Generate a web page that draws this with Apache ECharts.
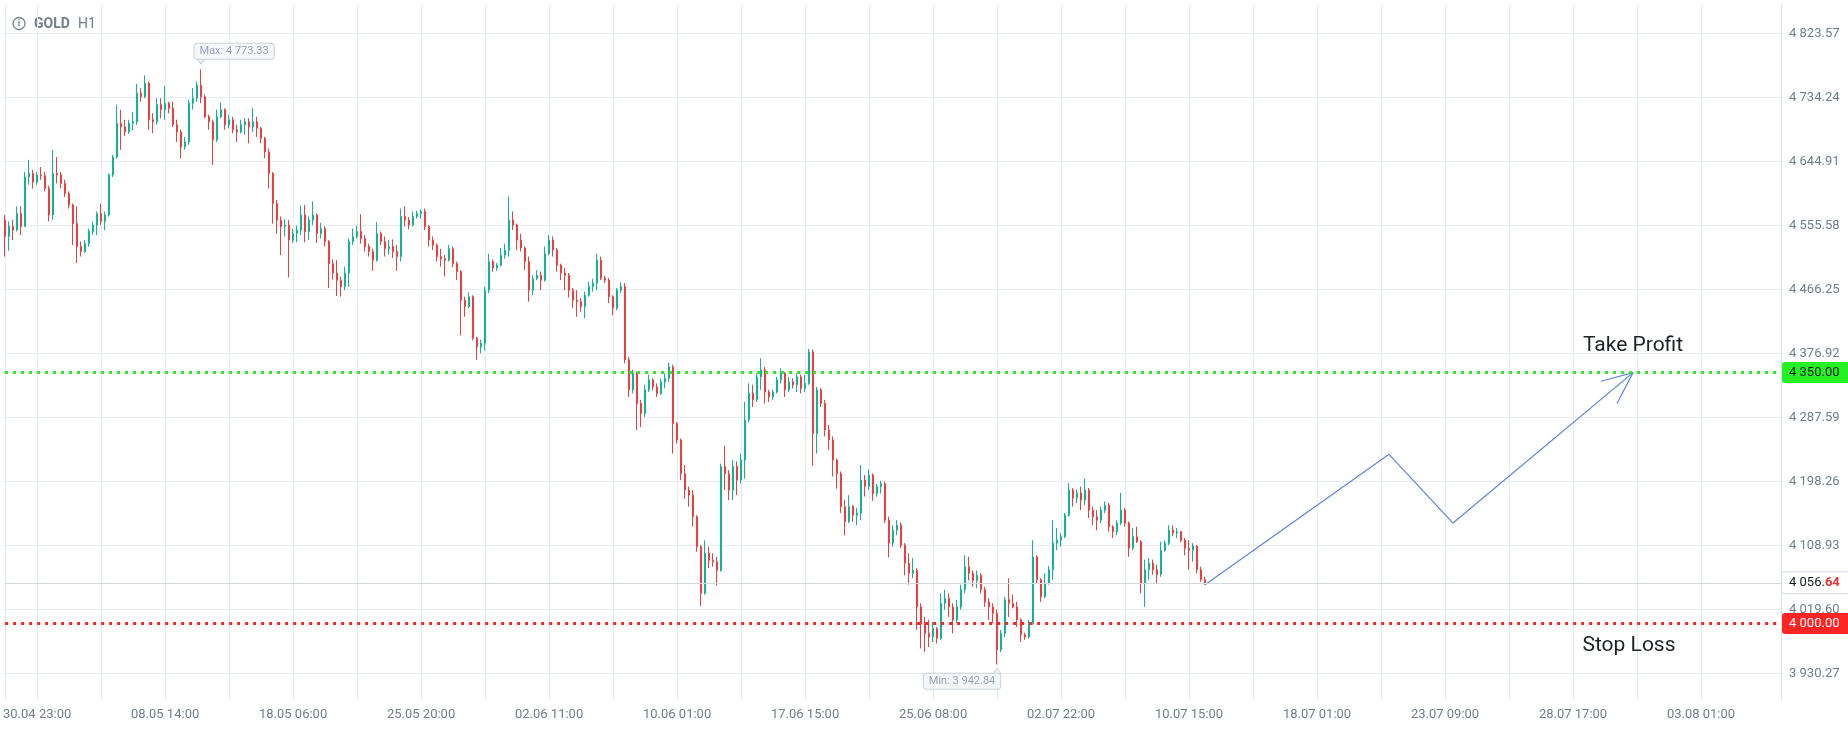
<!DOCTYPE html>
<html>
<head>
<meta charset="utf-8">
<title>GOLD H1</title>
<script src="https://cdn.jsdelivr.net/npm/echarts@6/dist/echarts.min.js"></script>
<style>
  html, body { margin: 0; padding: 0; background: #fff; }
  #chart { width: 1848px; height: 729px; }
</style>
</head>
<body>
<div id="chart"></div>
<script>
// price bars, one bar per 4 hours
var opens = [
  4563, 4540, 4554, 4549, 4572, 4554, 4623, 4628, 4616, 4626,
  4625, 4607, 4570, 4628, 4626, 4614, 4600, 4584, 4558, 4526,
  4519, 4530, 4547, 4556, 4572, 4561, 4570, 4626, 4651, 4698,
  4693, 4686, 4698, 4700, 4740, 4735, 4754, 4703, 4700, 4724,
  4717, 4726, 4719, 4696, 4686, 4665, 4672, 4726, 4733, 4751,
  4735, 4707, 4700, 4675, 4707, 4717, 4696, 4703, 4689, 4686,
  4696, 4700, 4693, 4700, 4691, 4677, 4658, 4628, 4586, 4563,
  4554, 4556, 4535, 4544, 4549, 4570, 4547, 4563, 4570, 4544,
  4551, 4533, 4502, 4489, 4479, 4470, 4489, 4533, 4540, 4547,
  4537, 4526, 4519, 4507, 4544, 4533, 4523, 4526, 4519, 4512,
  4568, 4563, 4556, 4568, 4572, 4575, 4554, 4535, 4528, 4512,
  4509, 4507, 4523, 4502, 4491, 4451, 4442, 4456, 4398, 4386,
  4391, 4465, 4505, 4496, 4500, 4514, 4521, 4563, 4556, 4535,
  4524, 4505, 4465, 4481, 4486, 4479, 4516, 4535, 4521, 4500,
  4489, 4486, 4465, 4451, 4449, 4442, 4458, 4470, 4475, 4507,
  4482, 4479, 4456, 4440, 4465, 4470, 4368, 4326, 4349, 4307,
  4293, 4326, 4340, 4330, 4321, 4337, 4342, 4358, 4279, 4256,
  4209, 4186, 4179, 4149, 4107, 4042, 4098, 4088, 4086, 4074,
  4219, 4209, 4186, 4219, 4200, 4228, 4284, 4321, 4312, 4344,
  4354, 4323, 4316, 4323, 4340, 4349, 4326, 4337, 4333, 4344,
  4328, 4335, 4379, 4265, 4326, 4307, 4270, 4256, 4228, 4209,
  4163, 4142, 4163, 4151, 4154, 4200, 4191, 4207, 4181, 4191,
  4195, 4144, 4112, 4130, 4137, 4109, 4084, 4070, 4074, 4023,
  3999, 3986, 3981, 3993, 3979, 4028, 4035, 4023, 4005, 4023,
  4047, 4079, 4070, 4060, 4067, 4047, 4030, 4023, 4014, 3963,
  3986, 4033, 4028, 4023, 4005, 3984, 3981, 4000, 4093, 4061,
  4037, 4056, 4075, 4112, 4116, 4121, 4151, 4186, 4175, 4182,
  4172, 4186, 4158, 4149, 4144, 4158, 4165, 4135, 4128, 4140,
  4158, 4140, 4105, 4121, 4114, 4056, 4075, 4084, 4075, 4068,
  4102, 4112, 4130, 4126, 4128, 4116, 4105, 4102, 4108, 4075,
  4061
];
var closes = [
  4540, 4554, 4549, 4572, 4554, 4623, 4628, 4616, 4626, 4625,
  4607, 4570, 4628, 4626, 4614, 4600, 4584, 4558, 4526, 4519,
  4530, 4547, 4556, 4572, 4561, 4570, 4626, 4651, 4698, 4693,
  4686, 4698, 4700, 4740, 4735, 4754, 4703, 4700, 4724, 4717,
  4726, 4719, 4696, 4686, 4665, 4672, 4726, 4733, 4751, 4735,
  4707, 4700, 4675, 4707, 4717, 4696, 4703, 4689, 4686, 4696,
  4700, 4693, 4700, 4691, 4677, 4658, 4628, 4586, 4563, 4554,
  4556, 4535, 4544, 4549, 4570, 4547, 4563, 4570, 4544, 4551,
  4533, 4502, 4489, 4479, 4470, 4489, 4533, 4540, 4547, 4537,
  4526, 4519, 4507, 4544, 4533, 4523, 4526, 4519, 4512, 4568,
  4563, 4556, 4568, 4572, 4575, 4554, 4535, 4528, 4512, 4509,
  4507, 4523, 4502, 4491, 4451, 4442, 4456, 4398, 4386, 4391,
  4465, 4505, 4496, 4500, 4514, 4521, 4563, 4556, 4535, 4524,
  4505, 4465, 4481, 4486, 4479, 4516, 4535, 4521, 4500, 4489,
  4486, 4465, 4451, 4449, 4442, 4458, 4470, 4475, 4507, 4482,
  4479, 4456, 4440, 4465, 4470, 4368, 4326, 4349, 4307, 4293,
  4326, 4340, 4330, 4321, 4337, 4342, 4358, 4279, 4256, 4209,
  4186, 4179, 4149, 4107, 4042, 4098, 4088, 4086, 4074, 4219,
  4209, 4186, 4219, 4200, 4228, 4284, 4321, 4312, 4344, 4354,
  4323, 4316, 4323, 4340, 4349, 4326, 4337, 4333, 4344, 4328,
  4335, 4379, 4265, 4326, 4307, 4270, 4256, 4228, 4209, 4163,
  4142, 4163, 4151, 4154, 4200, 4191, 4207, 4181, 4191, 4195,
  4144, 4112, 4130, 4137, 4109, 4084, 4070, 4074, 4023, 3999,
  3986, 3981, 3993, 3979, 4028, 4035, 4023, 4005, 4023, 4047,
  4079, 4070, 4060, 4067, 4047, 4030, 4023, 4014, 3963, 3986,
  4033, 4028, 4023, 4005, 3984, 3981, 4000, 4093, 4061, 4037,
  4056, 4075, 4112, 4116, 4121, 4151, 4186, 4175, 4182, 4172,
  4186, 4158, 4149, 4144, 4158, 4165, 4135, 4128, 4140, 4158,
  4140, 4105, 4121, 4114, 4056, 4075, 4084, 4075, 4068, 4102,
  4112, 4130, 4126, 4128, 4116, 4105, 4102, 4108, 4075, 4061,
  4056.64
];
var lows = [
  4512, 4520, 4535, 4547, 4542, 4554, 4612, 4607, 4612, 4619,
  4603, 4561, 4563, 4614, 4607, 4595, 4579, 4528, 4503, 4512,
  4517, 4526, 4542, 4542, 4556, 4549, 4568, 4623, 4649, 4661,
  4680, 4683, 4688, 4696, 4728, 4733, 4689, 4684, 4696, 4705,
  4703, 4712, 4693, 4672, 4649, 4661, 4668, 4717, 4728, 4726,
  4705, 4689, 4640, 4672, 4705, 4689, 4691, 4684, 4672, 4684,
  4682, 4670, 4686, 4679, 4670, 4649, 4607, 4558, 4544, 4514,
  4540, 4483, 4531, 4532, 4542, 4532, 4535, 4556, 4531, 4537,
  4526, 4468, 4480, 4457, 4456, 4465, 4470, 4528, 4537, 4530,
  4519, 4512, 4492, 4505, 4528, 4512, 4515, 4510, 4492, 4505,
  4554, 4550, 4554, 4565, 4565, 4549, 4526, 4521, 4505, 4498,
  4484, 4505, 4497, 4479, 4402, 4428, 4440, 4395, 4368, 4377,
  4381, 4461, 4491, 4492, 4498, 4509, 4512, 4549, 4521, 4519,
  4493, 4449, 4458, 4479, 4465, 4477, 4514, 4512, 4491, 4479,
  4465, 4455, 4440, 4428, 4435, 4426, 4456, 4463, 4465, 4479,
  4475, 4447, 4430, 4437, 4461, 4363, 4316, 4321, 4270, 4274,
  4288, 4323, 4325, 4316, 4319, 4328, 4337, 4237, 4251, 4200,
  4174, 4163, 4135, 4100, 4024, 4040, 4077, 4079, 4053, 4072,
  4186, 4172, 4172, 4179, 4195, 4202, 4281, 4302, 4309, 4326,
  4307, 4309, 4312, 4321, 4335, 4316, 4323, 4328, 4323, 4321,
  4323, 4333, 4220, 4237, 4302, 4261, 4242, 4205, 4188, 4154,
  4123, 4140, 4142, 4137, 4144, 4177, 4186, 4171, 4177, 4181,
  4140, 4092, 4107, 4123, 4105, 4067, 4054, 4063, 3991, 3965,
  3960, 3967, 3974, 3972, 3977, 4019, 4009, 3986, 4000, 4019,
  4042, 4060, 4051, 4049, 4042, 4023, 4005, 4000, 3942.84, 3960,
  3981, 4009, 4021, 3995, 3974, 3977, 3979, 3998, 4056, 4030,
  4035, 4054, 4061, 4102, 4107, 4119, 4149, 4163, 4168, 4158,
  4165, 4147, 4137, 4130, 4140, 4154, 4128, 4119, 4123, 4137,
  4135, 4093, 4102, 4112, 4042, 4023, 4061, 4068, 4056, 4065,
  4100, 4109, 4122, 4119, 4113, 4095, 4075, 4086, 4070, 4058,
  4054
];
var highs = [
  4570, 4561, 4563, 4582, 4582, 4630, 4647, 4633, 4630, 4637,
  4630, 4611, 4661, 4651, 4630, 4619, 4603, 4586, 4582, 4533,
  4535, 4551, 4561, 4575, 4586, 4575, 4628, 4654, 4724, 4717,
  4703, 4703, 4714, 4753, 4747, 4765, 4756, 4712, 4733, 4733,
  4750, 4728, 4728, 4703, 4689, 4679, 4731, 4747, 4756, 4773.33,
  4738, 4710, 4703, 4717, 4727, 4719, 4710, 4707, 4696, 4703,
  4705, 4705, 4719, 4707, 4693, 4679, 4663, 4630, 4591, 4568,
  4564, 4563, 4551, 4555, 4583, 4584, 4568, 4589, 4572, 4559,
  4554, 4535, 4508, 4507, 4484, 4498, 4537, 4551, 4555, 4571,
  4542, 4530, 4523, 4560, 4547, 4540, 4535, 4536, 4528, 4579,
  4582, 4567, 4575, 4576, 4578, 4579, 4556, 4540, 4530, 4523,
  4514, 4528, 4526, 4505, 4493, 4456, 4462, 4458, 4400, 4396,
  4470, 4516, 4508, 4503, 4524, 4530, 4596, 4575, 4558, 4544,
  4526, 4512, 4486, 4493, 4491, 4526, 4542, 4540, 4524, 4502,
  4496, 4489, 4468, 4465, 4454, 4463, 4477, 4481, 4516, 4512,
  4485, 4482, 4458, 4468, 4476, 4475, 4372, 4354, 4351, 4312,
  4333, 4347, 4342, 4335, 4342, 4349, 4364, 4361, 4281, 4258,
  4221, 4191, 4186, 4151, 4109, 4116, 4107, 4098, 4093, 4223,
  4248, 4214, 4228, 4226, 4237, 4309, 4335, 4333, 4349, 4370,
  4358, 4326, 4326, 4344, 4356, 4351, 4344, 4342, 4349, 4347,
  4347, 4383, 4382, 4330, 4328, 4312, 4277, 4261, 4230, 4212,
  4172, 4179, 4165, 4161, 4221, 4207, 4215, 4209, 4195, 4199,
  4198, 4149, 4137, 4144, 4141, 4112, 4098, 4091, 4077, 4028,
  4009, 4005, 4002, 3995, 4042, 4047, 4042, 4028, 4033, 4054,
  4095, 4093, 4074, 4074, 4070, 4051, 4035, 4028, 4019, 3991,
  4037, 4063, 4040, 4030, 4007, 3987, 4005, 4116, 4095, 4063,
  4070, 4080, 4144, 4133, 4126, 4154, 4196, 4189, 4187, 4191,
  4202, 4189, 4163, 4158, 4163, 4170, 4168, 4137, 4144, 4182,
  4161, 4142, 4133, 4135, 4116, 4089, 4091, 4089, 4082, 4114,
  4116, 4137, 4137, 4133, 4129, 4119, 4116, 4112, 4109, 4079,
  4065
];

var tickLabels = ['30.04 23:00', '08.05 14:00', '18.05 06:00', '25.05 20:00', '02.06 11:00',
  '10.06 01:00', '17.06 15:00', '25.06 08:00', '02.07 22:00', '10.07 15:00',
  '18.07 01:00', '23.07 09:00', '28.07 17:00', '03.08 01:00'];
var priceTicks = [3930.27, 4019.60, 4108.93, 4198.26, 4287.59, 4376.92,
  4466.25, 4555.58, 4644.91, 4734.24, 4823.57];

// forecast zigzag drawn after the last bar: [bar index, price]
var projection = [[300, 4054], [346, 4236], [362, 4140], [407, 4350]];
var arrowHead = [[399, 4338], [407, 4350], [403, 4307]];

var takeProfit = 4350;
var stopLoss = 4000;
var lastPrice = 4056.64;

var slots = 445;      // bars + empty future space
var firstTick = 8;    // index of first date label
var labelStep = 32;
var lastTick = firstTick + labelStep * (tickLabels.length - 1);

var categories = [];
for (var i = 0; i < slots; i++) categories.push(String(i));

var candles = [];
for (var j = 0; j < closes.length; j++) {
  candles.push([opens[j], closes[j], lows[j], highs[j]]);
}

function fmt(v) {
  var p = Number(v).toFixed(2).split('.');
  return p[0].replace(/\B(?=(\d{3})+(?!\d))/g, ' ') + '.' + p[1];
}

var txt = '#737b8c';
var gridColor = '#e6eaf2';
var up = '#0fb592';
var down = '#ef3d3d';
var lp = fmt(lastPrice);

var calloutLabel = {
  show: true,
  position: 'inside',
  color: '#9aa2b4',
  fontSize: 11,
  fontFamily: 'Roboto',
  backgroundColor: '#f6f7fa',
  borderColor: '#cbd0da',
  borderWidth: 1,
  borderRadius: 3,
  padding: [2, 5, 2, 5]
};

var chart = echarts.init(document.getElementById('chart'), null, { renderer: 'canvas' });

var option = {
  animation: false,
  backgroundColor: '#ffffff',
  textStyle: { fontFamily: 'Roboto' },
  grid: { left: 5, right: 67, top: 5, bottom: 29 },
  graphic: [
    { type: 'circle', shape: { cx: 19, cy: 23.5, r: 6 },
      style: { fill: 'none', stroke: '#7c8496', lineWidth: 1.3 } },
    { type: 'text', x: 19, y: 24,
      style: { text: 'i', fill: '#7c8496', fontSize: 9, fontWeight: 'bold', fontFamily: 'Roboto',
               align: 'center', verticalAlign: 'middle' } },
    { type: 'text', x: 34, y: 24,
      style: { text: 'GOLD', fill: txt, fontSize: 14, fontWeight: 'bold', fontFamily: 'Roboto',
               verticalAlign: 'middle' } },
    { type: 'text', x: 78, y: 24,
      style: { text: 'H1', fill: txt, fontSize: 14, fontFamily: 'Roboto', verticalAlign: 'middle' } }
  ],
  xAxis: {
    type: 'category',
    data: categories,
    boundaryGap: false,
    axisLine: { show: false },
    axisTick: { show: false },
    axisLabel: {
      color: txt,
      fontSize: 13,
      margin: 8,
      interval: function (idx) {
        return idx >= firstTick && idx <= lastTick && (idx - firstTick) % labelStep === 0;
      },
      formatter: function (val, idx) {
        return tickLabels[(idx - firstTick) / labelStep] || '';
      }
    },
    splitLine: {
      show: true,
      lineStyle: { color: gridColor, width: 1 },
      interval: function (idx) {
        return idx === 0 || (idx >= firstTick && idx <= lastTick && (idx - firstTick) % (labelStep / 2) === 0);
      }
    }
  },
  yAxis: {
    type: 'value',
    position: 'right',
    min: 3893.05,
    max: 4863.12,
    axisLine: { show: true, lineStyle: { color: '#dfe3ea' } },
    axisTick: { show: false, customValues: priceTicks },
    axisLabel: {
      customValues: priceTicks,
      color: txt,
      fontSize: 13,
      margin: 8,
      formatter: fmt
    },
    splitLine: { show: true, lineStyle: { color: gridColor, width: 1 } }
  },
  series: [
    {
      type: 'candlestick',
      data: candles,
      barWidth: 2,
      itemStyle: {
        color: up, color0: down,
        borderColor: up, borderColor0: down,
        borderWidth: 1
      },
      markLine: {
        silent: true,
        symbol: ['none', 'none'],
        animation: false,
        data: [
          {
            yAxis: takeProfit,
            lineStyle: { color: '#22ee22', type: [3, 5], width: 3 },
            label: {
              show: true, position: 'end', distance: 1,
              formatter: fmt(takeProfit),
              color: '#1b1f24', fontSize: 13, fontFamily: 'Roboto',
              backgroundColor: '#24f024', padding: [4, 12, 4, 7], borderRadius: [3, 0, 0, 3]
            }
          },
          {
            yAxis: lastPrice,
            lineStyle: { color: '#d3d7de', type: 'solid', width: 1 },
            label: {
              show: true, position: 'end', distance: 1,
              formatter: '{a|' + lp.slice(0, -2) + '}{b|' + lp.slice(-2) + '}',
              backgroundColor: '#ffffff', borderColor: '#d6dae2', borderWidth: 1,
              padding: [4, 12, 4, 7], borderRadius: [3, 0, 0, 3],
              rich: {
                a: { color: '#15181d', fontSize: 13, fontFamily: 'Roboto' },
                b: { color: '#f03434', fontSize: 13, fontWeight: 'bold', fontFamily: 'Roboto' }
              }
            }
          },
          {
            yAxis: stopLoss,
            lineStyle: { color: '#ff2020', type: [3, 5], width: 3 },
            label: {
              show: true, position: 'end', distance: 1,
              formatter: fmt(stopLoss),
              color: '#ffffff', fontSize: 13, fontFamily: 'Roboto',
              backgroundColor: '#ff2525', padding: [4, 12, 4, 7], borderRadius: [3, 0, 0, 3]
            }
          }
        ]
      },
      markPoint: {
        silent: true,
        animation: false,
        data: [
          {
            type: 'max', valueDim: 'highest',
            symbol: 'path://M0,0 L10,0 L5,6 Z', symbolSize: [8, 5], symbolOffset: [0, -8],
            itemStyle: { color: '#f6f7fa', borderColor: '#cbd0da', borderWidth: 1 },
            label: Object.assign({}, calloutLabel, {
              offset: [33, -10],
              formatter: function (p) { return 'Max: ' + fmt(p.value); }
            })
          },
          {
            type: 'min', valueDim: 'lowest',
            symbol: 'path://M5,0 L10,6 L0,6 Z', symbolSize: [8, 5], symbolOffset: [0, 7],
            itemStyle: { color: '#f6f7fa', borderColor: '#cbd0da', borderWidth: 1 },
            label: Object.assign({}, calloutLabel, {
              offset: [-35, 10],
              formatter: function (p) { return 'Min: ' + fmt(p.value); }
            })
          }
        ]
      }
    },
    {
      type: 'line',
      data: projection,
      symbol: 'none',
      lineStyle: { color: '#5c87d6', width: 1.2 },
      silent: true,
      markPoint: {
        silent: true,
        symbol: 'circle',
        symbolSize: 1,
        itemStyle: { color: 'rgba(0,0,0,0)' },
        label: { show: true, color: '#1e2228', fontSize: 21, fontFamily: 'Roboto' },
        data: [
          { coord: [407, takeProfit], label: { formatter: 'Take Profit', offset: [0, -27] } },
          { coord: [407, stopLoss], label: { formatter: 'Stop Loss', offset: [-4, 22] } }
        ]
      }
    },
    {
      type: 'line',
      data: arrowHead,
      symbol: 'none',
      lineStyle: { color: '#5c87d6', width: 1.2 },
      silent: true
    }
  ]
};

chart.setOption(option);
</script>
</body>
</html>
